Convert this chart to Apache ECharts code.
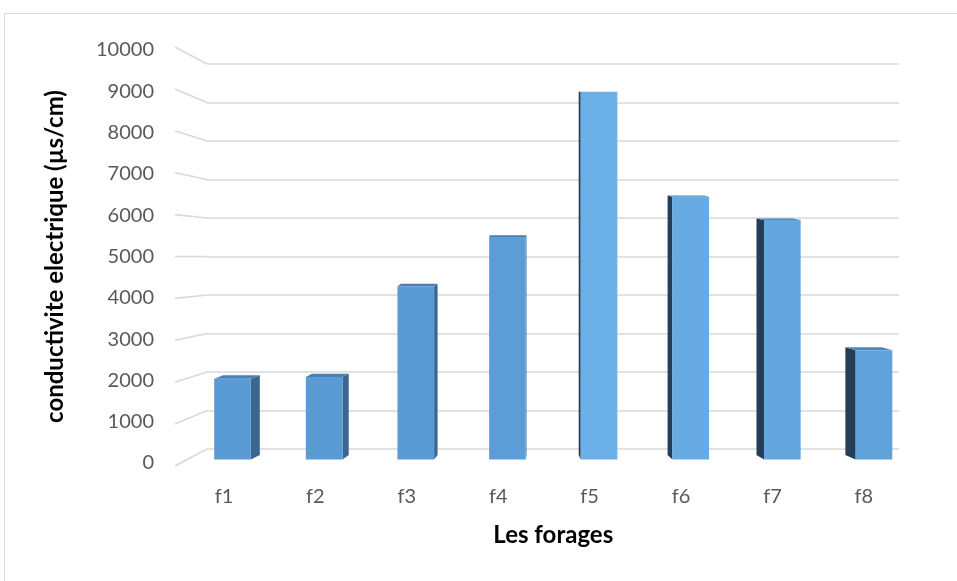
<!DOCTYPE html>
<html>
<head>
<meta charset="utf-8">
<script src="https://cdn.jsdelivr.net/npm/echarts@6/dist/echarts.min.js"></script>
<style>
  html, body { margin: 0; padding: 0; background: #ffffff; }
  #chart { width: 957px; height: 581px; }
</style>
</head>
<body>
<div id="chart"></div>
<script>
// Boreholes and their electrical conductivity (µs/cm)
const categories = ['f1', 'f2', 'f3', 'f4', 'f5', 'f6', 'f7', 'f8'];
const conductivity = [1990, 2030, 4270, 5480, 9060, 6470, 5900, 2690];

// Value axis range
const yMin = 0;
const yMax = 10000;
const yStep = 1000;

const FONT = 'Lato, "Open Sans", sans-serif';
const chart = echarts.init(document.getElementById('chart'), null, { renderer: 'canvas' });

// Front-face shades: columns to the right catch more light
const frontShades = ['#5b9bd5', '#5b9bd5', '#5b9bd5', '#5d9dd7', '#6cb0ea', '#68abe4', '#64a7df', '#60a2da'];

function renderColumn(params, api) {
  const i = api.value(0);
  const v = api.value(1);
  const cs = params.coordSys;
  const topPt = api.coord([i, v]);
  const basePt = api.coord([i, 0]);
  const band = api.size([1, 0])[0];
  const w = band * 0.4;
  const cx = topPt[0];
  const x1 = cx - w / 2, x2 = cx + w / 2;
  const yT = topPt[1], yB = basePt[1];
  // simple perspective: vanishing point slightly left of centre, eye line near the top
  const vpX = cs.x + cs.width * 0.47;
  const eyeY = cs.y + cs.height * 0.1;
  const dx = 0.03 * (vpX - cx);
  const dyT = -0.012 * (yT - eyeY);
  const dyB = -0.012 * (yB - eyeY);
  const children = [];
  if (dx > 0.5) {
    // right-hand side face
    children.push({ type: 'polygon', shape: { points: [[x2, yT], [x2 + dx, yT + dyT], [x2 + dx, yB + dyB], [x2, yB]] },
      style: { fill: '#3a6690' } });
  } else if (dx < -0.5) {
    // left-hand side face
    children.push({ type: 'polygon', shape: { points: [[x1, yT], [x1 + dx, yT + dyT], [x1 + dx, yB + dyB], [x1, yB]] },
      style: { fill: '#243e57' } });
  }
  if (dyT < -0.5) {
    children.push({ type: 'polygon', shape: { points: [[x1, yT], [x2, yT], [x2 + dx, yT + dyT], [x1 + dx, yT + dyT]] },
      style: { fill: dx > 0 ? '#4a7fb3' : '#4f86bd' } });
  }
  children.push({ type: 'rect', shape: { x: x1, y: yT, width: w, height: yB - yT },
    style: { fill: frontShades[i % frontShades.length] } });
  return { type: 'group', children: children };
}

const hiddenVal = { type: 'value', show: false, min: 0, max: 1 };
const yBase = { type: 'value', min: yMin, max: yMax, interval: yStep };

chart.setOption({
  animation: false,
  grid: [
    { left: 175, right: 58, top: 50, bottom: 118 },      // front value labels
    { left: 178.3, right: 47.4, top: 50, bottom: 118 },  // category labels
    { left: 207, right: 58, top: 64, bottom: 132 },      // back wall grid lines
    { left: 186.7, right: 37.2, top: 53.5, bottom: 121.5 }, // columns
    { left: 175, right: 58, top: 47, bottom: 115 }       // front edge of the floor/wall
  ],
  xAxis: [
    Object.assign({ gridIndex: 0 }, hiddenVal),
    { gridIndex: 1, type: 'category', data: categories,
      axisLine: { show: false }, axisTick: { show: false },
      axisLabel: { color: '#595959', fontSize: 20, fontFamily: FONT, margin: 24 } },
    Object.assign({ gridIndex: 2 }, hiddenVal),
    { gridIndex: 3, type: 'category', data: categories,
      axisLine: { show: false }, axisTick: { show: false }, axisLabel: { show: false },
      name: 'Les forages', nameLocation: 'middle', nameGap: 64,
      nameTextStyle: { color: '#000000', fontSize: 24, fontWeight: 'bold', fontFamily: FONT } },
    Object.assign({ gridIndex: 4 }, hiddenVal)
  ],
  yAxis: [
    Object.assign({ gridIndex: 0,
      axisLine: { show: false }, axisTick: { show: false }, splitLine: { show: false },
      axisLabel: { color: '#595959', fontSize: 20, fontFamily: FONT, margin: 21,
        formatter: function (val) { return String(val); } },
      name: 'conductivite electrique (µs/cm)', nameLocation: 'middle', nameGap: 108, nameRotate: 90,
      nameTextStyle: { color: '#000000', fontSize: 24, fontWeight: 'bold', fontFamily: FONT } }, yBase),
    Object.assign({ gridIndex: 1, show: false }, yBase),
    Object.assign({ gridIndex: 2, axisLine: { show: false }, axisTick: { show: false }, axisLabel: { show: false },
      splitLine: { show: true, lineStyle: { color: '#d9d9d9', width: 1.6 } } }, yBase),
    Object.assign({ gridIndex: 3, show: false }, yBase),
    Object.assign({ gridIndex: 4, show: false }, yBase)
  ],
  series: [{
    type: 'custom',
    xAxisIndex: 3,
    yAxisIndex: 3,
    renderItem: renderColumn,
    data: categories.map((c, i) => [i, conductivity[i]]),
    z: 5
  }]
});

// Slanted floor/wall edges joining the value labels to the back wall lines
const edges = [];
for (let v = yMin; v <= yMax; v += yStep) {
  const yFront = chart.convertToPixel({ yAxisIndex: 4 }, v);
  const yBack = chart.convertToPixel({ yAxisIndex: 2 }, v);
  const xFront = chart.convertToPixel({ xAxisIndex: 4 }, 0);
  const xBack = chart.convertToPixel({ xAxisIndex: 2 }, 0);
  edges.push({ type: 'line', shape: { x1: xFront, y1: yFront, x2: xBack, y2: yBack },
    style: { stroke: '#d9d9d9', lineWidth: 1.6 }, z: 1 });
}
edges.push({ type: 'rect', shape: { x: 4.5, y: 13.5, width: 1200, height: 1200 },
  style: { fill: null, stroke: '#d9d9d9', lineWidth: 1 }, z: 0 });
chart.setOption({ graphic: edges });
</script>
</body>
</html>
